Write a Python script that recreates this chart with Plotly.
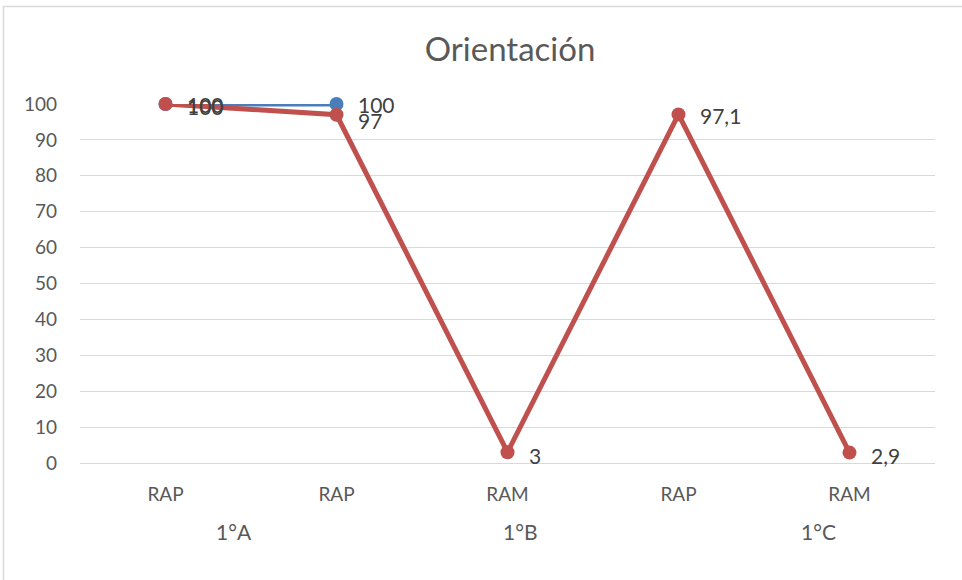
import plotly.graph_objects as go

categories = ["RAP", "RAP", "RAM", "RAP", "RAM"]
groups = ["1°A", "1°B", "1°C"]
series_blue = [100, 100, None, None, None]
series_red = [100, 97, 3, 97.1, 2.9]
labels_blue = ["100", "100", "", "", ""]
labels_red = ["100", "97", "3", "97,1", "2,9"]
y_ticks = list(range(0, 101, 10))

x_idx = list(range(len(categories)))
FONT = "Lato, Carlito, Calibri, sans-serif"
BLUE = "#4A7EBB"
RED = "#C0504D"

fig = go.Figure()
fig.add_trace(go.Scatter(
    x=x_idx, y=series_blue, mode="lines+markers",
    line=dict(color=BLUE, width=5),
    marker=dict(color=BLUE, size=14),
    cliponaxis=False, showlegend=False,
))
fig.add_trace(go.Scatter(
    x=x_idx, y=series_red, mode="lines+markers",
    line=dict(color=RED, width=5),
    marker=dict(color=RED, size=14),
    cliponaxis=False, showlegend=False,
))

def add_labels(values, labels, yshifts):
    for xi, v, t, ys in zip(x_idx, values, labels, yshifts):
        if v is None or not t:
            continue
        fig.add_annotation(x=xi, y=v, xref="x", yref="y", text=t, showarrow=False,
                           xanchor="left", yanchor="middle", xshift=19, yshift=ys,
                           font=dict(size=21, color="#404040", family=FONT))

add_labels(series_blue, labels_blue, [0, 0, 0, 0, 0])
add_labels(series_red, labels_red, [-2, -6, -3, -1, -3])

group_x = [0.18, 0.515, 0.864]
for g, gx in zip(groups, group_x):
    fig.add_annotation(text=g, x=gx, xref="paper", y=-0.192, yref="paper",
                       showarrow=False, xanchor="center", yanchor="middle",
                       font=dict(size=21, color="#595959", family=FONT))

fig.add_shape(type="rect", xref="paper", yref="paper",
              x0=-0.0895, y0=-0.6, x1=1.2, y1=1.2716,
              line=dict(color="#D9D9D9", width=1.5), fillcolor="rgba(0,0,0,0)")

fig.update_layout(
    width=962, height=580,
    margin=dict(l=80, r=27, t=104, b=117),
    paper_bgcolor="white", plot_bgcolor="white",
    title=dict(text="Orientación", x=0.503, xref="paper", y=0.914, yanchor="middle",
               font=dict(size=33, color="#595959", family=FONT)),
    xaxis=dict(range=[-0.5, 4.5], tickvals=x_idx, ticktext=categories,
               showgrid=False, zeroline=False, showline=True, linecolor="#D9D9D9",
               ticks="", ticklabelstandoff=14,
               tickfont=dict(size=19, color="#595959", family=FONT)),
    yaxis=dict(range=[0, 100], tickvals=y_ticks, showgrid=True, gridcolor="#D9D9D9",
               zeroline=False, showline=False, ticks="", ticklabelstandoff=22,
               tickfont=dict(size=19, color="#595959", family=FONT)),
)

fig.write_html("out.html", config={"displayModeBar": False},
               post_script="document.body.style.margin='0';document.body.style.overflow='hidden';")
